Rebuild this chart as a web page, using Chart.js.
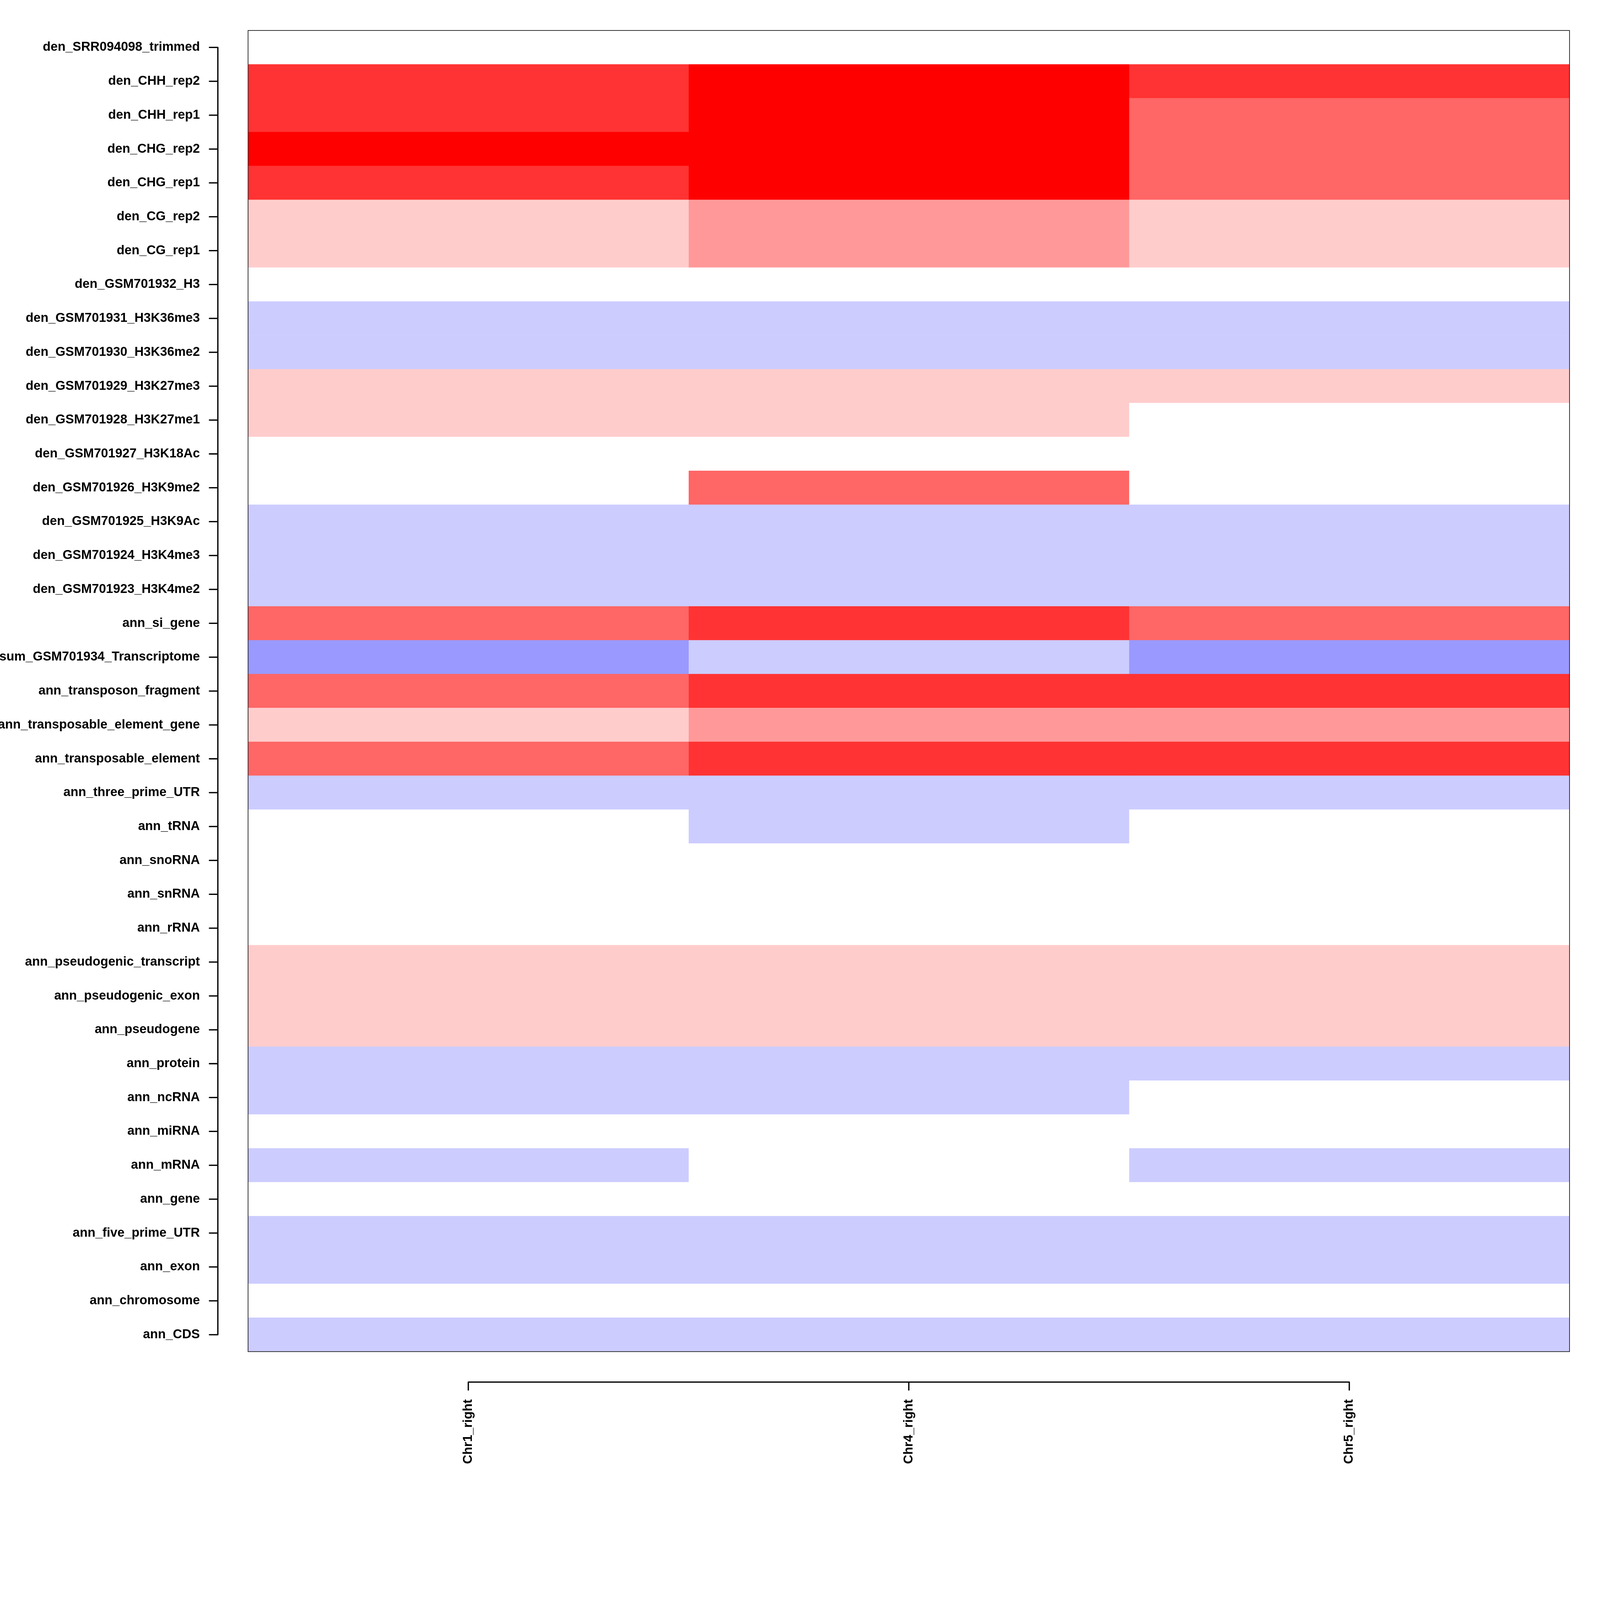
<!DOCTYPE html>
<html>
<head>
<meta charset="utf-8">
<script src="https://cdn.jsdelivr.net/npm/chart.js@4.4.1/dist/chart.umd.min.js"></script>
<style>
  html, body { margin: 0; padding: 0; background: #fff; overflow: hidden; }
  canvas { display: block; }
</style>
</head>
<body>
<canvas id="heatmap"></canvas>
<script>
const rowLabels = [
    'den_SRR094098_trimmed', 'den_CHH_rep2', 'den_CHH_rep1', 'den_CHG_rep2', 'den_CHG_rep1',
    'den_CG_rep2', 'den_CG_rep1', 'den_GSM701932_H3', 'den_GSM701931_H3K36me3', 'den_GSM701930_H3K36me2',
    'den_GSM701929_H3K27me3', 'den_GSM701928_H3K27me1', 'den_GSM701927_H3K18Ac', 'den_GSM701926_H3K9me2',
    'den_GSM701925_H3K9Ac', 'den_GSM701924_H3K4me3', 'den_GSM701923_H3K4me2', 'ann_si_gene',
    'sum_GSM701934_Transcriptome', 'ann_transposon_fragment', 'ann_transposable_element_gene',
    'ann_transposable_element', 'ann_three_prime_UTR', 'ann_tRNA', 'ann_snoRNA', 'ann_snRNA', 'ann_rRNA',
    'ann_pseudogenic_transcript', 'ann_pseudogenic_exon', 'ann_pseudogene', 'ann_protein', 'ann_ncRNA',
    'ann_miRNA', 'ann_mRNA', 'ann_gene', 'ann_five_prime_UTR', 'ann_exon', 'ann_chromosome', 'ann_CDS'
];
const columnLabels = ['Chr1_right', 'Chr4_right', 'Chr5_right'];

// enrichment level per row: -2..-1 depleted (blue), 0 neutral, 1..5 enriched (red)
const chr1Levels = [0, 4, 4, 5, 4, 1, 1, 0, -1, -1, 1, 1, 0, 0, -1, -1, -1, 3, -2, 3,
    1, 3, -1, 0, 0, 0, 0, 1, 1, 1, -1, -1, 0, -1, 0, -1, -1, 0, -1];
const chr4Levels = [0, 5, 5, 5, 5, 2, 2, 0, -1, -1, 1, 1, 0, 3, -1, -1, -1, 4, -1, 4,
    2, 4, -1, -1, 0, 0, 0, 1, 1, 1, -1, -1, 0, 0, 0, -1, -1, 0, -1];
const chr5Levels = [0, 4, 3, 3, 3, 1, 1, 0, -1, -1, 1, 0, 0, 0, -1, -1, -1, 3, -2, 4,
    2, 4, -1, 0, 0, 0, 0, 1, 1, 1, -1, 0, 0, -1, 0, -1, -1, 0, -1];

const levelColors = {
    '-2': '#9999FF', '-1': '#CCCCFF', '0': '#FFFFFF',
    '1': '#FFCCCC', '2': '#FF9999', '3': '#FF6666', '4': '#FF3333', '5': '#FF0000'
};

// the page was laid out for 6250x6000; scale everything to the real viewport
const s = Math.min(window.innerWidth / 6250, window.innerHeight / 6000);
const px = v => v * s;

const canvas = document.getElementById('heatmap');
canvas.style.width = px(6250) + 'px';
canvas.style.height = px(6000) + 'px';

const labelFont = { family: '"Liberation Sans", Arial, Helvetica, sans-serif', size: px(50), weight: 'bold' };

// R style axes: detached axis line with outward ticks, plus a box around the plot
const rAxes = {
    id: 'rAxes',
    afterDraw(chart) {
        const { ctx, chartArea: a, scales: { x, y } } = chart;
        ctx.save();
        ctx.strokeStyle = '#333';
        ctx.lineWidth = px(3);
        ctx.strokeRect(a.left, a.top, a.right - a.left, a.bottom - a.top);

        ctx.strokeStyle = '#000';
        ctx.lineWidth = px(5);
        ctx.lineCap = 'round';
        const yx = a.left - px(118);
        const yTop = y.getPixelForTick(0), yBot = y.getPixelForTick(y.ticks.length - 1);
        ctx.beginPath();
        ctx.moveTo(yx, yTop); ctx.lineTo(yx, yBot);
        y.ticks.forEach((t, i) => {
            const py = y.getPixelForTick(i);
            ctx.moveTo(yx, py); ctx.lineTo(yx - px(33), py);
        });
        ctx.stroke();

        const xy = a.bottom + px(119);
        const xl = x.getPixelForValue(x.ticks[0].value), xr = x.getPixelForValue(x.ticks[x.ticks.length - 1].value);
        ctx.beginPath();
        ctx.moveTo(xl, xy); ctx.lineTo(xr, xy);
        x.ticks.forEach(t => {
            const tx = x.getPixelForValue(t.value);
            ctx.moveTo(tx, xy); ctx.lineTo(tx, xy + px(31));
        });
        ctx.stroke();
        ctx.restore();
    }
};

const columns = [chr1Levels, chr4Levels, chr5Levels];
new Chart(canvas.getContext('2d'), {
    type: 'bar',
    data: {
        labels: rowLabels,
        datasets: columns.map((levels, c) => ({
            label: columnLabels[c],
            data: levels.map(() => 1),
            backgroundColor: levels.map(l => levelColors[l]),
            borderWidth: 0,
            barPercentage: 1,
            categoryPercentage: 1
        }))
    },
    options: {
        indexAxis: 'y',
        responsive: false,
        animation: false,
        layout: { padding: { left: 0, top: px(119), right: px(119), bottom: 0 } },
        plugins: { legend: { display: false }, tooltip: { enabled: false } },
        scales: {
            x: {
                type: 'linear',
                stacked: true,
                min: 0,
                max: columnLabels.length,
                grid: { display: false },
                border: { display: false },
                afterBuildTicks: scale => {
                    scale.ticks = columnLabels.map((_, i) => ({ value: i + 0.5 }));
                },
                afterFit: scale => {
                    scale.height = px(720);
                    scale.paddingLeft = 0;
                    scale.paddingRight = 0;
                },
                ticks: {
                    autoSkip: false,
                    minRotation: 90,
                    maxRotation: 90,
                    padding: px(174),
                    color: '#000',
                    font: labelFont,
                    callback: (value, index) => columnLabels[index]
                }
            },
            y: {
                stacked: true,
                grid: { display: false },
                border: { display: false },
                afterFit: scale => {
                    // tick padding would otherwise push the plot top down
                    scale.width = px(969);
                    scale.paddingTop = 0;
                    scale.paddingBottom = 0;
                },
                ticks: {
                    autoSkip: false,
                    padding: px(176),
                    color: '#000',
                    font: labelFont
                }
            }
        }
    },
    plugins: [rAxes]
});
</script>
</body>
</html>
